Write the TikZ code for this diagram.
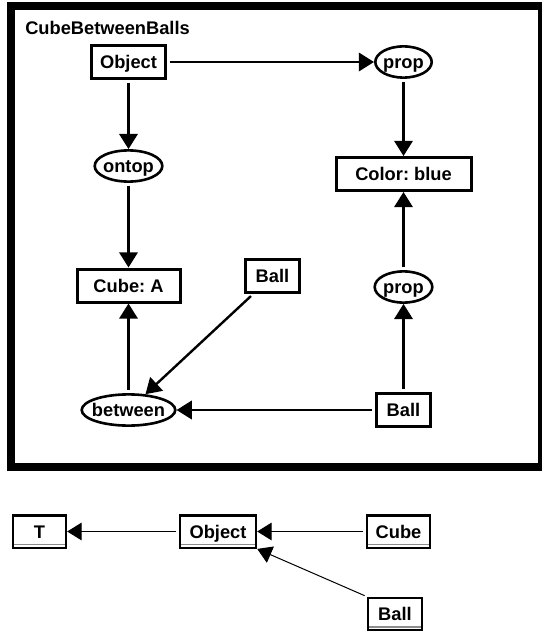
\documentclass[tikz,border=0pt]{standalone}
\usepackage{fontspec}
\setmainfont{Liberation Sans}
\usepackage{tikz}
\usetikzlibrary{shapes.geometric, arrows.meta}
\definecolor{monGris}{RGB}{140, 140, 140}
\newcommand{\police}{\bfseries\fontsize{13}{15}\selectfont\frenchspacing}

\tikzset{
    boite/.style={draw, line width=0.75mm, minimum height=8.25mm, inner xsep=2mm,
        font=\police, text height=9.3pt, text depth=0pt},
    ovale/.style={ellipse, draw, line width=0.65mm, minimum height=7.8mm, inner xsep=-1mm,
        inner ysep=0pt, font=\police, text height=9.3pt, text depth=0pt},
    lien/.style={-{Triangle[length=3.8mm, width=4.6mm]}, line width=0.6mm, shorten <=0.75mm},
    type/.style={draw, line width=0.6mm, minimum height=8.1mm, inner xsep=2mm,
        font=\police, text height=9.3pt, text depth=0pt},
    lienT/.style={-{Triangle[length=3.6mm, width=4.4mm]}, line width=0.25mm, shorten <=0.6mm}
}

\begin{document}
\begin{tikzpicture}[x=0.25mm, y=-0.25mm]
        \useasboundingbox (0,0) rectangle (541,633);

        % Cadre du graphe
        \draw[line width=2mm] (11,6.5) rectangle (542,467);
        \node[anchor=base west, inner sep=0pt, font=\police] (titre) at (25,35) {CubeBetweenBalls};

        % Concepts et relations
        \node[boite, minimum width=18.5mm] (obj) at (128.5,62) {Object};
        \node[ovale, minimum width=14.1mm] (prop1) at (403.5,62) {prop};
        \node[ovale, minimum width=16.9mm] (ontop) at (128.5,166) {ontop};
        \node[boite, minimum width=33.75mm] (couleur) at (403.5,174) {Color: blue};
        \node[boite, minimum width=25.75mm] (cube) at (128.5,285.5) {Cube: A};
        \node[boite, minimum width=13.5mm] (balle1) at (272.5,276) {Ball};
        \node[ovale, minimum width=14.4mm] (prop2) at (403.5,287) {prop};
        \node[ovale, minimum width=23.4mm] (entre) at (128.5,410) {between};
        \node[boite, minimum width=13.5mm] (balle2) at (403.5,410) {Ball};

        \draw[lien] (obj) -- (prop1);
        \draw[lien] (prop1) -- (couleur);
        \draw[lien] (obj) -- (ontop);
        \draw[lien] (ontop) -- (cube);
        \draw[lien] (entre) -- (cube);
        \draw[lien] (balle1) -- (entre);
        \draw[lien] (balle2) -- (entre);
        \draw[lien] (balle2) -- (prop2);
        \draw[lien] (prop2) -- (couleur);

        % Hierarchie des types
        \node[type, minimum width=13.25mm] (typeT) at (39.5,531.5) {T};
        \node[type, minimum width=19mm] (typeObj) at (218,531.5) {Object};
        \node[type, minimum width=15.75mm] (typeCube) at (398.5,531.5) {Cube};
        \node[type, minimum width=13.5mm] (typeBalle) at (395,614) {Ball};
        \foreach \n in {typeT, typeObj, typeCube, typeBalle}
            \draw[monGris, line width=0.3mm] ([shift={(2,-4.5)}]\n.south west) -- ([shift={(-2,-4.5)}]\n.south east);

        \draw[lienT] (typeObj) -- (typeT);
        \draw[lienT] (typeCube) -- (typeObj);
        \draw[lienT] (typeBalle.north west) -- (typeObj.south east);
    \end{tikzpicture}
\end{document}
